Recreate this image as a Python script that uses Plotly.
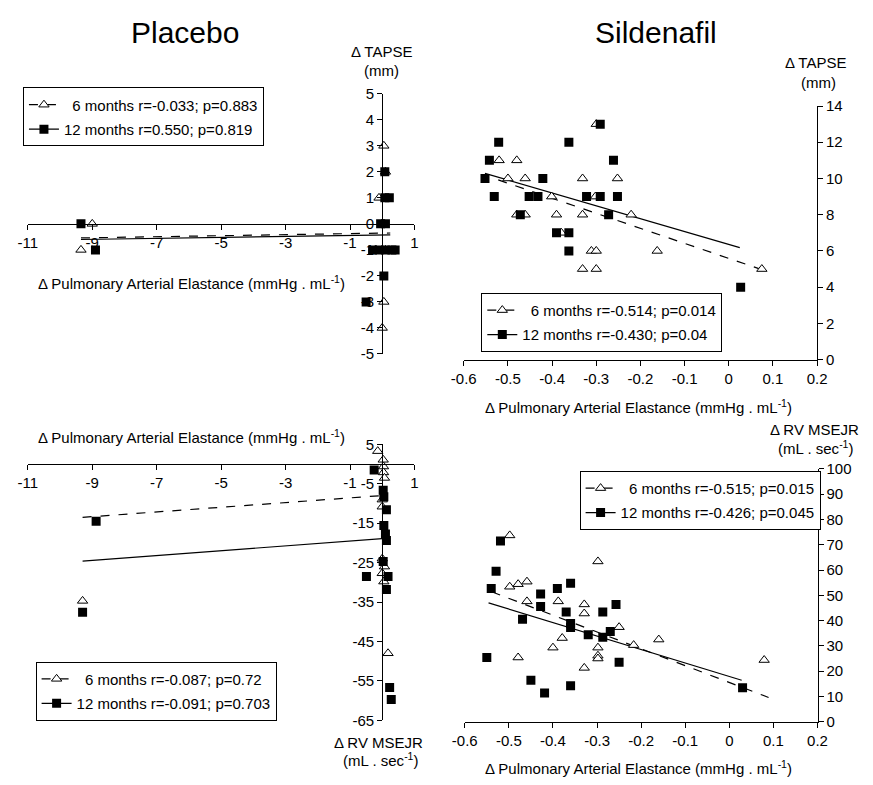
import plotly.graph_objects as go

W, H = 873, 785
OFF = 8  # page body margin of the browser
FW, FH = W - 2 * OFF, H - OFF
FONT = "Liberation Sans, Arial, sans-serif"

# ---------------- Placebo: delta TAPSE vs delta Ea ----------------
pl_tapse_6m_x = [-9.0, -9.35, 0.05, -0.1, 0.0, 0.1, 0.05, 0.0, 0.0, -0.2, 0.1]
pl_tapse_6m_y = [0, -1, 3, 1, 0, -1, -3, -4, -1, -1, 2]
pl_tapse_12m_x = [-9.35, -8.9, 0.08, 0.08, 0.22, -0.05, 0.1, -0.3, -0.1, 0.1, 0.3, 0.4, 0.05, -0.5]
pl_tapse_12m_y = [0, -1, 2, 1, 1, 0, 0, -1, -1, -1, -1, -1, -2, -3]
pl_tapse_fit6_x = [-9.35, 0.25]
pl_tapse_fit6_y = [-0.54, -0.35]
pl_tapse_fit12_x = [-9.35, 0.25]
pl_tapse_fit12_y = [-0.6, -0.42]

# ---------------- Sildenafil: delta TAPSE vs delta Ea ----------------
sil_tapse_6m_x = [-0.30, -0.52, -0.48, -0.50, -0.461, -0.331, -0.252, -0.401, -0.302, -0.48, -0.461,
                  -0.39, -0.331, -0.221, -0.379, -0.311, -0.30, -0.162, -0.331, -0.30, 0.075]
sil_tapse_6m_y = [13, 11, 11, 10, 10, 10, 10, 9, 9, 8, 8, 8, 8, 8, 7, 6, 6, 6, 5, 5, 5]
sil_tapse_12m_x = [-0.291, -0.521, -0.362, -0.542, -0.261, -0.552, -0.421, -0.531, -0.452, -0.432,
                   -0.322, -0.291, -0.252, -0.472, -0.272, -0.39, -0.362, -0.362, 0.027]
sil_tapse_12m_y = [13, 12, 12, 11, 11, 10, 10, 9, 9, 9, 9, 9, 9, 8, 8, 7, 7, 6, 4]
sil_tapse_fit6_x = [-0.522, 0.077]
sil_tapse_fit6_y = [9.92, 4.95]
sil_tapse_fit12_x = [-0.552, 0.025]
sil_tapse_fit12_y = [10.28, 6.18]

# ---------------- Placebo: delta RV MSEJR vs delta Ea ----------------
pl_msejr_6m_x = [-9.3, -0.14, 0.03, 0.04, 0.04, 0.07, 0.0, 0.0, 0.0, 0.07, 0.0, 0.05, 0.18]
pl_msejr_6m_y = [-34.7, 3.3, 1.1, -0.6, -2.1, -3.5, -9.0, -10.8, -24.0, -26.0, -27.7, -29.8, -48.0]
pl_msejr_12m_x = [-8.88, -9.3, -0.25, -0.49, 0.03, 0.05, 0.13, 0.05, 0.1, 0.13, 0.03, 0.18, 0.13, 0.23, 0.28]
pl_msejr_12m_y = [-14.5, -37.6, -1.5, -28.5, -6.6, -8.3, -11.6, -15.6, -17.7, -19.4, -24.7, -28.5, -31.8, -56.7, -59.7]
pl_msejr_fit6_x = [-9.3, -0.05]
pl_msejr_fit6_y = [-13.5, -8.0]
pl_msejr_fit12_x = [-9.3, 0.0]
pl_msejr_fit12_y = [-24.6, -18.9]

# ---------------- Sildenafil: delta RV MSEJR vs delta Ea ----------------
sil_msejr_6m_x = [-0.498, -0.298, -0.498, -0.479, -0.459, -0.459, -0.388, -0.329, -0.329, -0.25,
                  -0.379, -0.4, -0.298, -0.298, -0.298, -0.217, -0.16, -0.479, -0.329, 0.079]
sil_msejr_6m_y = [73.7, 63.4, 53.4, 54.4, 55.4, 47.6, 47.6, 46.4, 42.8, 37.4,
                  33.1, 29.3, 29.3, 26.1, 25.0, 30.3, 32.5, 25.4, 21.3, 24.4]
sil_msejr_12m_x = [-0.519, -0.529, -0.54, -0.428, -0.39, -0.36, -0.428, -0.37, -0.287, -0.257, -0.469,
                   -0.36, -0.36, -0.32, -0.287, -0.27, -0.55, -0.25, -0.45, -0.36, -0.419, 0.03]
sil_msejr_12m_y = [71.5, 59.5, 52.7, 50.5, 52.7, 54.8, 45.6, 43.4, 43.4, 46.4, 40.5,
                   38.9, 37.3, 34.4, 33.4, 35.7, 25.4, 23.5, 16.4, 14.2, 11.4, 13.4]
sil_msejr_fit6_x = [-0.539, 0.089]
sil_msejr_fit6_y = [51.4, 9.6]
sil_msejr_fit12_x = [-0.546, 0.028]
sil_msejr_fit12_y = [47.0, 16.4]

# ---------------- Tick labels ----------------
pl_x_ticks = [-11, -9, -7, -5, -3, -1, 1]
pl_tapse_y_ticks = [-5, -4, -3, -2, -1, 0, 1, 2, 3, 4, 5]
pl_msejr_y_ticks = [5, -5, -15, -25, -35, -45, -55, -65]
sil_x_ticks = [-0.6, -0.5, -0.4, -0.3, -0.2, -0.1, 0, 0.1, 0.2]
sil_x_ticktext = ["-0.6", "-0.5", "-0.4", "-0.3", "-0.2", "-0.1", "0", "0.1", "0.2"]
sil_tapse_y_ticks = [0, 2, 4, 6, 8, 10, 12, 14]
sil_msejr_y_ticks = [0, 10, 20, 30, 40, 50, 60, 70, 80, 90, 100]

legend_text = {
    "legend": ["6 months r=-0.033; p=0.883", "12 months r=0.550; p=0.819"],
    "legend2": ["6 months r=-0.514; p=0.014", "12 months r=-0.430; p=0.04"],
    "legend3": ["6 months r=-0.087; p=0.72", "12 months r=-0.091; p=0.703"],
    "legend4": ["6 months r=-0.515; p=0.015", "12 months r=-0.426; p=0.045"],
}

fig = go.Figure()

TRI = dict(symbol="triangle-up", size=9, color="white", line=dict(color="black", width=1))
SQ = dict(symbol="square", size=9, color="black", line=dict(color="black", width=0))


def add_panel(xa, ya, leg, x6, y6, x12, y12, f6x, f6y, f12x, f12y):
    common = dict(xaxis=xa, yaxis=ya, hoverinfo="skip")
    fig.add_trace(go.Scatter(x=f6x, y=f6y, mode="lines", showlegend=False,
                             line=dict(color="black", width=1.2, dash="dash"), **common))
    fig.add_trace(go.Scatter(x=f12x, y=f12y, mode="lines", showlegend=False,
                             line=dict(color="black", width=1.2), **common))
    fig.add_trace(go.Scatter(x=x6, y=y6, mode="markers", showlegend=False, marker=TRI, **common))
    fig.add_trace(go.Scatter(x=x12, y=y12, mode="markers", showlegend=False, marker=SQ, **common))
    lab6, lab12 = legend_text[leg]
    fig.add_trace(go.Scatter(x=[None], y=[None], mode="lines+markers", name="\u00a0\u00a0" + lab6,
                             legend=leg, legendgroup=leg + "a",
                             line=dict(color="black", width=1.2, dash="dash"), marker=TRI, **common))
    fig.add_trace(go.Scatter(x=[None], y=[None], mode="lines+markers", name=lab12,
                             legend=leg, legendgroup=leg + "b",
                             line=dict(color="black", width=1.2), marker=SQ, **common))


add_panel("x", "y", "legend", pl_tapse_6m_x, pl_tapse_6m_y, pl_tapse_12m_x, pl_tapse_12m_y,
          pl_tapse_fit6_x, pl_tapse_fit6_y, pl_tapse_fit12_x, pl_tapse_fit12_y)
add_panel("x2", "y2", "legend2", sil_tapse_6m_x, sil_tapse_6m_y, sil_tapse_12m_x, sil_tapse_12m_y,
          sil_tapse_fit6_x, sil_tapse_fit6_y, sil_tapse_fit12_x, sil_tapse_fit12_y)
add_panel("x3", "y3", "legend3", pl_msejr_6m_x, pl_msejr_6m_y, pl_msejr_12m_x, pl_msejr_12m_y,
          pl_msejr_fit6_x, pl_msejr_fit6_y, pl_msejr_fit12_x, pl_msejr_fit12_y)
add_panel("x4", "y4", "legend4", sil_msejr_6m_x, sil_msejr_6m_y, sil_msejr_12m_x, sil_msejr_12m_y,
          sil_msejr_fit6_x, sil_msejr_fit6_y, sil_msejr_fit12_x, sil_msejr_fit12_y)


def px(v):
    return (v - OFF) / FW


def py(v):
    return 1 - (v - OFF) / FH


TICKFONT = dict(family=FONT, size=15, color="black")
AX = dict(showline=True, linecolor="black", linewidth=1, ticks="outside", ticklen=5,
          tickwidth=1, tickcolor="black", showgrid=False, zeroline=False, tickfont=TICKFONT)


def labels(vals):
    return [str(v) for v in vals]


fig.update_layout(
    width=FW, height=FH, autosize=False,
    margin=dict(l=0, r=0, t=0, b=0),
    paper_bgcolor="white", plot_bgcolor="rgba(0,0,0,0)",
    font=dict(family=FONT, size=15, color="black"),
    # Placebo TAPSE
    xaxis=dict(domain=[px(15), px(412.3)], range=[-11, 1], anchor="free", position=py(219.5),
               tickvals=pl_x_ticks, ticktext=labels(pl_x_ticks), **AX),
    yaxis=dict(domain=[py(352.5), py(86.5)], range=[-5, 5], anchor="free", position=px(379.1),
               tickvals=pl_tapse_y_ticks, ticktext=labels(pl_tapse_y_ticks), **AX),
    # Sildenafil TAPSE
    xaxis2=dict(domain=[px(463), px(826)], range=[-0.6, 0.2], anchor="y2",
                tickvals=sil_x_ticks, ticktext=sil_x_ticktext, **AX),
    yaxis2=dict(domain=[py(358.3), py(99)], range=[0, 14], anchor="x2", side="right",
                tickvals=sil_tapse_y_ticks, ticktext=labels(sil_tapse_y_ticks), **AX),
    # Placebo MSEJR
    xaxis3=dict(domain=[px(15), px(412.3)], range=[-11, 1], anchor="free", position=py(465.1),
                tickvals=pl_x_ticks, ticktext=labels(pl_x_ticks), **AX),
    yaxis3=dict(domain=[py(727), py(445)], range=[-65, 5], anchor="free", position=px(379.1),
                tickvals=pl_msejr_y_ticks, ticktext=labels(pl_msejr_y_ticks), **AX),
    # Sildenafil MSEJR
    xaxis4=dict(domain=[px(464), px(826.5)], range=[-0.6, 0.2], anchor="y4",
                tickvals=sil_x_ticks, ticktext=sil_x_ticktext, **AX),
    yaxis4=dict(domain=[py(728.5), py(470)], range=[0, 100], anchor="x4", side="right",
                tickvals=sil_msejr_y_ticks, ticktext=labels(sil_msejr_y_ticks), **AX),
)

LEG = dict(bgcolor="white", bordercolor="black", borderwidth=1, xanchor="left", yanchor="top",
           font=dict(family=FONT, size=15, color="black"), tracegroupgap=2)
fig.update_layout(
    legend=dict(x=px(10), y=py(80), **LEG),
    legend2=dict(x=px(481), y=py(290), **LEG),
    legend3=dict(x=px(23), y=py(667), **LEG),
    legend4=dict(x=px(582), y=py(472), **LEG),
)

ATITLE = "\u0394 Pulmonary Arterial Elastance (mmHg . mL<sup>-1</sup>)"


def ann(text, x, y, size=15, xanchor="center"):
    fig.add_annotation(text=text, x=px(x), y=py(y), xref="paper", yref="paper", showarrow=False,
                       xanchor=xanchor, yanchor="middle", font=dict(family=FONT, size=size, color="black"))


ann("Placebo", 177, 24, size=30)
ann("Sildenafil", 660, 24, size=30)
ann("\u0394 TAPSE", 378, 43)
ann("(mm)", 378, 63)
ann("\u0394 TAPSE", 824, 55)
ann("(mm)", 827, 75)
ann(ATITLE, 23, 279, xanchor="left")
ann(ATITLE, 643, 406)
ann(ATITLE, 23, 437, xanchor="left")
ann(ATITLE, 643, 775)
ann("\u0394 RV MSEJR", 375, 750)
ann("(mL . sec<sup>-1</sup>)", 377, 767)
ann("\u0394 RV MSEJR", 823, 430)
ann("(mL . sec<sup>-1</sup>)", 824, 448)

fig.write_html("out.html")
